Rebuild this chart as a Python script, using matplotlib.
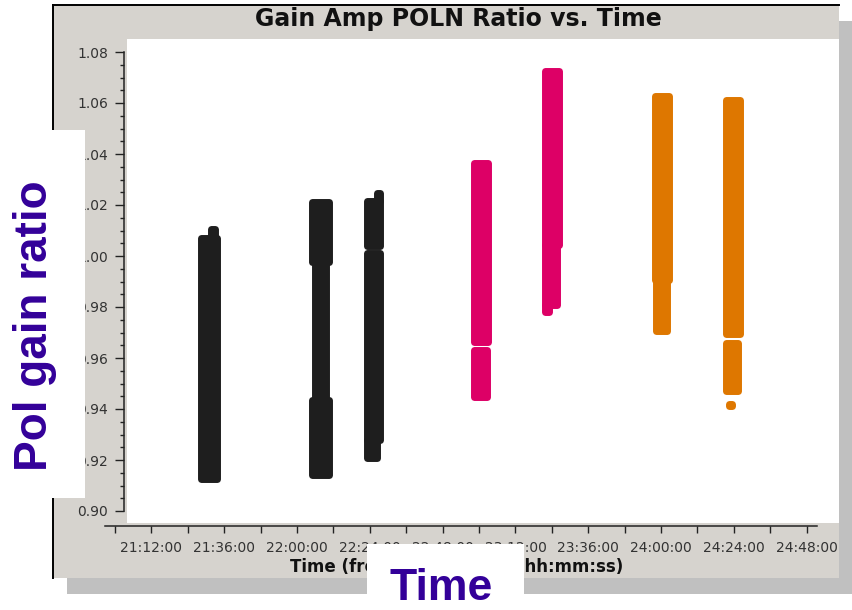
import matplotlib
matplotlib.use("Agg")
import matplotlib.pyplot as plt
from matplotlib.patches import Rectangle
from matplotlib.lines import Line2D
from matplotlib.ticker import MultipleLocator, FuncFormatter

# Time in minutes after 21:00:00, ratio values.
# Each scan band = list of (t_lo, t_hi, y_lo, y_hi) pieces.
scan_colors = ["#1e1e1e", "#1e1e1e", "#1e1e1e", "#dd0066", "#dd0066", "#de7700", "#de7700"]
scan_pieces = [
    [(28.5, 33.5, 0.9124, 1.0069), (31.8, 32.8, 1.0069, 1.0104)],
    [(64.8, 70.4, 0.9978, 1.0210), (65.8, 69.7, 0.9435, 0.9978), (64.8, 70.4, 0.9143, 0.9435)],
    [(82.9, 87.2, 1.0039, 1.0214), (86.2, 87.2, 1.0214, 1.0249),
     (82.9, 87.2, 0.9278, 1.0010), (82.9, 86.2, 0.9206, 0.9278)],
    [(118.2, 123.1, 0.9663, 1.0363), (118.2, 122.5, 0.9449, 0.9631)],
    [(141.6, 146.2, 1.0043, 1.0727), (141.6, 145.6, 0.9808, 1.0043), (141.6, 142.9, 0.9782, 0.9808)],
    [(177.9, 182.5, 0.9906, 1.0629), (178.2, 182.1, 0.9704, 0.9906)],
    [(201.3, 205.9, 0.9696, 1.0610), (201.3, 205.2, 0.9469, 0.9657), (202.3, 203.3, 0.9412, 0.9420)],
]

title = "Gain Amp POLN Ratio vs. Time"
xlabel = "Time (from 2013/07/16) (hh:mm:ss)"

W, H = 852, 610
fig = plt.figure(figsize=(W / 100, H / 100), dpi=100)
fig.patch.set_facecolor("white")


def px_rect(x0, y0, x1, y1, color, z):
    r = Rectangle((x0 / W, 1 - y1 / H), (x1 - x0) / W, (y1 - y0) / H,
                  transform=fig.transFigure, facecolor=color, edgecolor="none", zorder=z)
    fig.add_artist(r)


def px_line(xs, ys, z):
    ln = Line2D([x / W for x in xs], [1 - y / H for y in ys], transform=fig.transFigure,
                color="black", lw=1.4, zorder=z)
    fig.add_artist(ln)


# window frame, shadow and white canvas
px_rect(839, 21, 852, 594, "#c0c0c0", -6)
px_rect(67, 578, 852, 594, "#c0c0c0", -6)
px_rect(53, 5, 839, 578, "#d6d3ce", -5)
px_line([53, 839], [5, 5], -4)
px_line([53, 53], [5, 578], -4)
px_rect(127, 39, 839, 523, "white", -4)

# data axes
ax = fig.add_axes([105 / W, 1 - 511 / H, 712 / W, 459 / H])
ax.patch.set_visible(False)
ax.set_xlim(-3.3, 231.4)
ax.set_ylim(0.90, 1.08)

for color, pieces in zip(scan_colors, scan_pieces):
    for t0, t1, y0, y1 in pieces:
        ax.bar((t0 + t1) / 2, y1 - y0, width=t1 - t0, bottom=y0, color=color,
               edgecolor=color, linewidth=5, joinstyle="round", clip_on=False)

for s in ["top", "right"]:
    ax.spines[s].set_visible(False)
ax.spines["left"].set_position(("data", 2.97))
ax.spines["left"].set_bounds(0.90, 1.08)
ax.spines["bottom"].set_position(("outward", 10.8))
for s in ["left", "bottom"]:
    ax.spines[s].set_linewidth(1.1)
    ax.spines[s].set_color("#222222")

ax.xaxis.set_major_locator(MultipleLocator(24, offset=12))
ax.xaxis.set_minor_locator(MultipleLocator(12))
ax.xaxis.set_major_formatter(FuncFormatter(
    lambda m, _: f"{21 + int(round(m)) // 60}:{int(round(m)) % 60:02d}:00"))
ax.yaxis.set_major_locator(MultipleLocator(0.02))
ax.yaxis.set_minor_locator(MultipleLocator(0.005))
ax.yaxis.set_major_formatter(FuncFormatter(lambda v, _: f"{v:.2f}"))

ax.tick_params(axis="x", which="both", direction="out", length=5, width=1,
               color="#222222", labelsize=10, labelcolor="#333333", pad=5.5)
ax.tick_params(axis="y", which="major", direction="out", length=6.5, width=1,
               color="#222222", labelsize=10, labelcolor="#333333", pad=5)
ax.tick_params(axis="y", which="minor", direction="out", length=3, width=1, color="#222222")

fig.text(458 / W, 1 - 19 / H, title, ha="center", va="center", fontsize=17,
         fontweight="bold", color="#111111")
fig.text(457 / W, 1 - 567 / H, xlabel, ha="center", va="center", fontsize=12,
         fontweight="bold", color="#111111")

# annotation boxes pasted on top
px_rect(0, 130, 85, 498, "white", 10)
px_rect(367, 544, 524, 610, "white", 10)
fig.text(35 / W, 1 - 326 / H, "Pol gain ratio", rotation=90, ha="center", va="center",
         fontsize=33, fontweight="bold", family="Liberation Sans", color="#330099", zorder=11)
fig.text(441 / W, 1 - 609 / H, "Time", ha="center", va="bottom",
         fontsize=32, fontweight="bold", family="Liberation Sans", color="#330099", zorder=11)

fig.savefig("out.png", dpi=100)
